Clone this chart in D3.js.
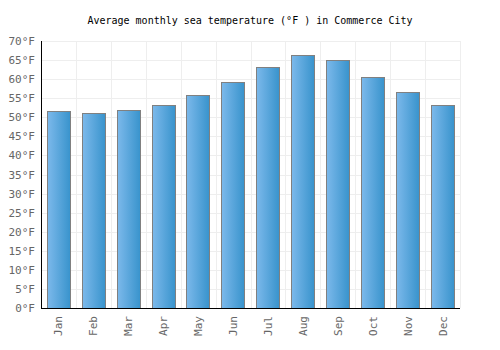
<!DOCTYPE html>
<html>
<head>
<meta charset="utf-8">
<script src="https://cdn.jsdelivr.net/npm/d3@7"></script>
<style>
  body { margin: 0; background: #fff; }
  svg { display: block; }
</style>
</head>
<body>
<svg></svg>
<script>
// Dados do gráfico
const months = ["Jan", "Feb", "Mar", "Apr", "May", "Jun", "Jul", "Aug", "Sep", "Oct", "Nov", "Dec"];
const seaTemp = [51.7, 51.2, 51.9, 53.2, 55.9, 59.3, 63.2, 66.3, 65.0, 60.6, 56.7, 53.2];
const yTicks = [0, 5, 10, 15, 20, 25, 30, 35, 40, 45, 50, 55, 60, 65, 70];
const title = "Average monthly sea temperature (°F ) in Commerce City";

const width = 500, height = 350;
const margin = { top: 41, right: 40, bottom: 42, left: 41 };
const font = "'DejaVu Sans Mono', monospace";

const svg = d3.select("svg").attr("width", width).attr("height", height);

// Gradiente das barras
const grad = svg.append("defs").append("linearGradient")
  .attr("id", "barGrad").attr("x1", "0%").attr("x2", "100%").attr("y1", "0%").attr("y2", "0%");
grad.append("stop").attr("offset", "0%").attr("stop-color", "#7cb9eb");
grad.append("stop").attr("offset", "100%").attr("stop-color", "#3893cc");

const x = d3.scaleBand()
  .domain(months)
  .range([margin.left, width - margin.right])
  .paddingInner(0.33)
  .paddingOuter(0.165);

const y = d3.scaleLinear()
  .domain([0, 70])
  .range([height - margin.bottom, margin.top]);

// Grelha
const grid = svg.append("g");
grid.selectAll("line.h")
  .data(yTicks)
  .enter().append("line")
  .attr("x1", margin.left).attr("x2", width - margin.right)
  .attr("y1", d => Math.round(y(d)) + 0.5).attr("y2", d => Math.round(y(d)) + 0.5)
  .attr("stroke", "#eeeeee");

const step = x.step();
const vLines = d3.range(months.length + 1).map(i => margin.left + i * step);
grid.selectAll("line.v")
  .data(vLines)
  .enter().append("line")
  .attr("x1", d => Math.round(d) + 0.5).attr("x2", d => Math.round(d) + 0.5)
  .attr("y1", margin.top).attr("y2", height - margin.bottom)
  .attr("stroke", "#eeeeee");

// Barras
svg.append("g").selectAll("rect")
  .data(seaTemp)
  .enter().append("rect")
  .attr("x", (d, i) => Math.round(x(months[i])) + 0.5)
  .attr("y", d => Math.round(y(d)) + 0.5)
  .attr("width", Math.round(x.bandwidth()))
  .attr("height", d => Math.round(y(0)) - Math.round(y(d)))
  .attr("fill", "url(#barGrad)")
  .attr("stroke", "#808080")
  .attr("stroke-width", 1);

// Eixos
svg.append("line")
  .attr("x1", margin.left + 0.5).attr("x2", margin.left + 0.5)
  .attr("y1", margin.top).attr("y2", Math.round(y(0)) + 1)
  .attr("stroke", "#000");
svg.append("line")
  .attr("x1", margin.left).attr("x2", width - margin.right)
  .attr("y1", Math.round(y(0)) + 0.5).attr("y2", Math.round(y(0)) + 0.5)
  .attr("stroke", "#000");

// Rótulos do eixo Y
svg.append("g").selectAll("text")
  .data(yTicks)
  .enter().append("text")
  .attr("x", margin.left - 6)
  .attr("y", d => y(d) + 4)
  .attr("text-anchor", "end")
  .style("font-family", font)
  .style("font-size", "11px")
  .attr("fill", "#666")
  .text(d => d + "°F");

// Rótulos do eixo X
svg.append("g").selectAll("text")
  .data(months)
  .enter().append("text")
  .attr("transform", d => `translate(${x(d) + x.bandwidth() / 2 + 4},${height - margin.bottom + 8}) rotate(-90)`)
  .attr("text-anchor", "end")
  .style("font-family", font)
  .style("font-size", "11px")
  .attr("fill", "#666")
  .text(d => d);

// Título
svg.append("text")
  .attr("x", width / 2)
  .attr("y", 24)
  .attr("text-anchor", "middle")
  .style("font-family", font)
  .style("font-size", "10px")
  .attr("fill", "#000")
  .text(title);
</script>
</body>
</html>
